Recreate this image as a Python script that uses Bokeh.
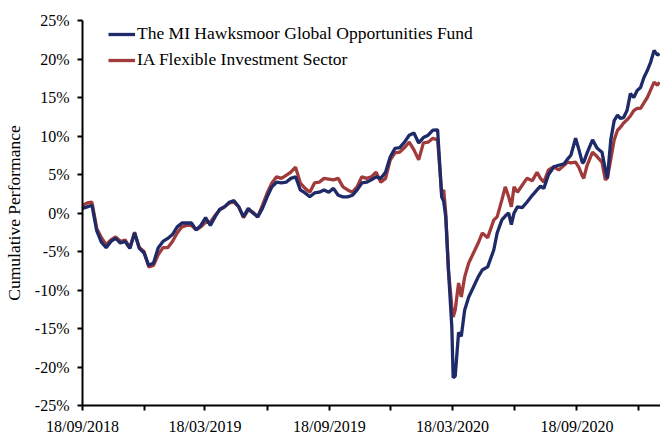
import pandas as pd
from bokeh.plotting import figure
from bokeh.models import (FixedTicker, PrintfTickFormatter, DatetimeTickFormatter,
                          Range1d, Legend, LegendItem, ColumnDataSource)
from bokeh.embed import file_html
from bokeh.resources import INLINE

# ---- data (cumulative performance, %) ----
weekly_start = "2018-09-18"
weekly_fund = [0.6, 0.8, 1.0, -2.3, -3.8, -4.5, -3.7, -3.3, -3.9, -3.7,
               -4.6, -2.6, -4.6, -5.2, -6.8, -6.5, -4.5, -3.7, -3.3, -2.8,
               -1.8, -1.3, -1.3, -1.3, -2.2, -1.6, -0.6, -1.6, -0.5, 0.5,
               0.8, 1.4, 1.6, 0.8, -0.5, 0.6, 0.0, -0.5, 0.6, 2.1,
               3.4, 4.0, 3.9, 4.0, 4.5, 4.7, 3.0, 2.6, 2.1, 2.6,
               2.7, 3.0, 2.7, 3.2, 2.3, 2.1, 2.1, 2.3, 3.0, 3.9,
               4.0, 4.3, 4.7, 4.5, 5.3, 7.3, 8.4, 8.5, 9.2, 10.1,
               10.4, 9.1, 9.8, 10.1, 10.75]
weekly_sector = [1.0, 1.3, 1.4, -2.0, -3.2, -4.1, -3.5, -3.1, -3.7, -3.5,
                 -4.5, -2.5, -4.5, -5.0, -7.0, -6.8, -5.4, -4.5, -4.5, -3.7,
                 -2.6, -1.8, -1.6, -1.6, -2.2, -1.8, -1.2, -1.2, -0.3, 0.4,
                 0.8, 1.3, 1.4, 0.8, -0.6, 0.4, 0.1, -0.5, 1.0, 2.6,
                 3.9, 4.7, 4.5, 4.9, 5.3, 5.96, 3.9, 3.2, 2.7, 3.9,
                 4.0, 4.5, 4.4, 4.3, 4.5, 3.4, 3.0, 2.7, 3.4, 4.7,
                 4.5, 4.7, 5.3, 4.0, 4.5, 6.9, 7.8, 7.9, 8.5, 9.2,
                 8.2, 6.9, 9.1, 9.2, 9.7]

later_dates = ["2020-02-25", "2020-03-02", "2020-03-05", "2020-03-08", "2020-03-12",
               "2020-03-17", "2020-03-19", "2020-03-22", "2020-03-27", "2020-03-31",
               "2020-04-05", "2020-04-11", "2020-04-18", "2020-04-25", "2020-05-01",
               "2020-05-09", "2020-05-18", "2020-05-23", "2020-05-30", "2020-06-04",
               "2020-06-09", "2020-06-13", "2020-06-17", "2020-06-22", "2020-06-29",
               "2020-07-06", "2020-07-14", "2020-07-21", "2020-07-26", "2020-07-31",
               "2020-08-07", "2020-08-15", "2020-08-22", "2020-08-30", "2020-09-04",
               "2020-09-09", "2020-09-16", "2020-09-21", "2020-09-26", "2020-09-28",
               "2020-10-03", "2020-10-11", "2020-10-18", "2020-10-25", "2020-10-30",
               "2020-11-02", "2020-11-07", "2020-11-12", "2020-11-17", "2020-11-21",
               "2020-11-26", "2020-12-01", "2020-12-06", "2020-12-11", "2020-12-16",
               "2020-12-21", "2020-12-26", "2020-12-31", "2021-01-05", "2021-01-10",
               "2021-01-15", "2021-01-18"]
later_fund = [10.8, 2.1, 1.5, -0.5, -7.4,
              -14.8, -21.4, -21.2, -15.5, -16.0,
              -12.6, -10.9, -9.6, -8.3, -7.4,
              -7.0, -4.8, -2.6, -0.9, -0.4,
              0.0, -1.5, 0.0, 0.8, 0.7,
              1.4, 2.3, 3.0, 3.5, 3.2,
              5.0, 6.0, 6.2, 6.4, 7.0,
              7.5, 9.7, 8.2, 6.5, 6.6,
              7.8, 9.5, 8.4, 7.9, 5.6,
              4.5, 9.5, 12.0, 12.7, 12.3,
              12.4, 13.3, 15.5, 15.0, 15.9,
              16.3, 17.6, 18.5, 19.6, 21.1,
              20.5, 20.7]
later_sector = [9.5, 2.6, 3.0, 0.0, -7.4,
                -12.2, -13.5, -12.6, -9.1, -10.9,
                -8.3, -6.5, -5.2, -3.9, -2.6,
                -3.2, -0.9, -0.5, 1.7, 3.4,
                2.1, 0.8, 3.4, 2.7, 3.6,
                4.5, 4.2, 5.3, 4.5, 4.0,
                5.6, 6.0, 5.6, 6.2, 6.6,
                6.5, 6.6, 5.9, 4.8, 4.5,
                6.2, 7.9, 7.3, 6.6, 4.3,
                4.6, 7.0, 9.5, 10.75, 11.1,
                11.7, 12.1, 12.6, 13.3, 13.6,
                13.6, 14.3, 15.0, 16.0, 17.0,
                16.6, 17.0]

labelled_ticks = ["2018-09-18", "2019-03-18", "2019-09-18", "2020-03-18", "2020-09-18"]
minor_ticks = ["2018-12-18", "2019-06-18", "2019-12-18", "2020-06-18", "2020-12-18"]
y_ticks = [-25, -20, -15, -10, -5, 0, 5, 10, 15, 20, 25]

fund_name = "The MI Hawksmoor Global Opportunities Fund"
sector_name = "IA Flexible Investment Sector"

# ---- build ----
dates = list(pd.date_range(weekly_start, periods=len(weekly_fund), freq="7D")) + list(pd.to_datetime(later_dates))
src = ColumnDataSource(dict(date=dates, fund=weekly_fund + later_fund,
                            sector=weekly_sector + later_sector))

def ms(d):
    return pd.Timestamp(d).value // 10**6

FONT = "Liberation Serif"
BLUE = "#1f2a68"
RED = "#a13a3a"

p = figure(width=660, height=437, x_axis_type="datetime", output_backend="svg",
           toolbar_location=None,
           x_range=Range1d(ms("2018-09-18"), ms("2021-01-19 12:00")),
           y_range=Range1d(-25, 25),
           min_border_left=82, min_border_right=0, min_border_top=20, min_border_bottom=31)
p.grid.visible = False
p.outline_line_color = None
p.background_fill_color = "white"
p.border_fill_color = "white"

r_sector = p.line("date", "sector", source=src, line_color=RED, line_width=3.3)
r_fund = p.line("date", "fund", source=src, line_color=BLUE, line_width=3.3)

xa = p.xaxis[0]
xa.ticker = FixedTicker(ticks=[ms(d) for d in labelled_ticks], minor_ticks=[ms(d) for d in minor_ticks])
fmt = "%d/%m/%Y"
xa.formatter = DatetimeTickFormatter(microseconds=fmt, milliseconds=fmt, seconds=fmt, minsec=fmt,
                                     minutes=fmt, hourmin=fmt, hours=fmt, days=fmt,
                                     months=fmt, years=fmt)
ya = p.yaxis[0]
ya.ticker = FixedTicker(ticks=y_ticks)
ya.formatter = PrintfTickFormatter(format="%d%%")
ya.axis_label = "Cumulative Performance"
ya.axis_label_text_font = FONT
ya.axis_label_text_font_style = "normal"
ya.axis_label_text_font_size = "17.5px"
ya.axis_label_text_color = "black"
ya.axis_label_standoff = 8
ya.minor_tick_line_color = None

for ax in (xa, ya):
    ax.axis_line_color = "black"
    ax.axis_line_width = 2
    ax.major_tick_line_color = "black"
    ax.major_tick_line_width = 2
    ax.major_tick_in = 0
    ax.major_tick_out = 5
    ax.major_label_text_font = FONT
    ax.major_label_text_color = "black"
    ax.major_label_text_font_size = "16px"
xa.minor_tick_line_color = "black"
xa.minor_tick_line_width = 2
xa.minor_tick_in = 0
xa.minor_tick_out = 5
xa.major_label_standoff = 7
ya.major_label_standoff = 8

legend = Legend(items=[LegendItem(label=fund_name, renderers=[r_fund]),
                       LegendItem(label=sector_name, renderers=[r_sector])],
                location=(26, 335))
legend.border_line_color = None
legend.background_fill_alpha = 0
legend.padding = 0
legend.margin = 0
legend.spacing = 5
legend.glyph_width = 27
legend.glyph_height = 20
legend.label_height = 20
legend.label_standoff = 2
legend.label_text_font = FONT
legend.label_text_font_size = "17.5px"
legend.label_text_color = "black"
p.add_layout(legend)

open("out.html", "w").write(file_html(p, INLINE))
